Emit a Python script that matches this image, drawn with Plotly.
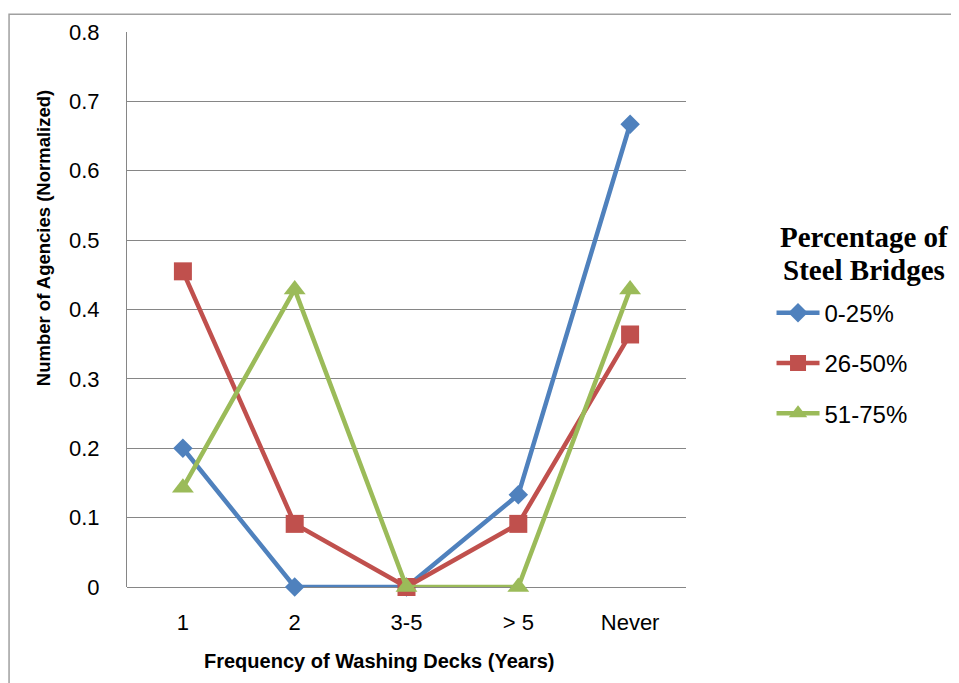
'''
Normalised agency counts by deck washing frequency, per steel bridge share.
'''

import plotly.graph_objects as go


CATEGORIES = ['1', '2', '3-5', '> 5', 'Never']
SERIES_NAMES = ['0-25%', '26-50%', '51-75%']
VALUES_0_25 = [0.200, 0.000, 0.000, 0.133, 0.667]
VALUES_26_50 = [0.455, 0.091, 0.000, 0.091, 0.364]
VALUES_51_75 = [0.143, 0.429, 0.000, 0.000, 0.429]
Y_TICKS = [0, 0.1, 0.2, 0.3, 0.4, 0.5, 0.6, 0.7, 0.8]
LEGEND_TITLE = ['Percentage of', 'Steel Bridges']
X_TITLE = 'Frequency of Washing Decks (Years)'
Y_TITLE = 'Number of Agencies (Normalized)'

STYLE = [
    ('#4F81BD', 'diamond', 15),
    ('#C0504D', 'square', 18),
    ('#9BBB59', 'triangle-up', 19),
]

fig = go.Figure()
for name, values, (colour, symbol, size) in zip(
        SERIES_NAMES, [VALUES_0_25, VALUES_26_50, VALUES_51_75], STYLE):
    fig.add_trace(go.Scatter(
        x = CATEGORIES,
        y = values,
        name = name,
        legendgroup = name,
        mode = 'lines+markers',
        cliponaxis = False,
        line = dict(color=colour, width=4.5),
        marker = dict(symbol=symbol, size=size, color=colour)
    ))

# legend heading, two tight lines like the original
for text, ypos in zip(LEGEND_TITLE, [0.630, 0.572]):
    fig.add_annotation(
        text = f'<b>{text}</b>',
        xref = 'paper', yref = 'paper',
        x = 1.318, y = ypos,
        xanchor = 'center', yanchor = 'middle',
        showarrow = False,
        font = dict(family='Liberation Serif, serif', size=29, color='black')
    )

# axis titles sit off-centre in the original, so place them by hand
fig.add_annotation(
    text = f'<b>{X_TITLE}</b>',
    xref = 'paper', yref = 'paper',
    x = 0.451, y = -0.134,
    xanchor = 'center', yanchor = 'middle',
    showarrow = False,
    font = dict(size=20)
)
fig.add_annotation(
    text = f'<b>{Y_TITLE}</b>',
    xref = 'paper', yref = 'paper',
    x = -0.148, y = 0.629,
    xanchor = 'center', yanchor = 'middle',
    textangle = -90,
    showarrow = False,
    font = dict(size=18.5)
)

# outer chart frame
fig.add_shape(
    type = 'rect', xref = 'paper', yref = 'paper',
    x0 = -0.211, x1 = 1.6, y0 = -0.3, y1 = 1.032,
    line = dict(color='#A0A0A0', width=1.5)
)

fig.update_layout(
    width = 951,
    height = 675,
    margin = dict(l=119, r=273, t=19, b=96),
    paper_bgcolor = 'white',
    plot_bgcolor = 'white',
    font = dict(family='Liberation Sans, Open Sans, sans-serif', color='black', size=22),
    showlegend = True,
    legend = dict(
        x = 1.153, y = 0.534, xanchor = 'left', yanchor = 'top',
        font = dict(size=24),
        tracegroupgap = 16,
        itemwidth = 43
    ),
    xaxis = dict(
        type = 'category',
        range = [-0.5, 4.5],
        showgrid = False,
        showline = False,
        ticks = '',
        ticklabelstandoff = 20,
        tickfont = dict(size=22)
    ),
    yaxis = dict(
        range = [0, 0.8],
        tickvals = Y_TICKS,
        ticktext = [f'{v:g}' for v in Y_TICKS],
        showgrid = True,
        gridcolor = '#868686',
        gridwidth = 1,
        showline = True,
        linecolor = '#868686',
        linewidth = 1,
        zeroline = True,
        zerolinecolor = '#868686',
        zerolinewidth = 1,
        ticks = '',
        ticklabelstandoff = 22,
        tickfont = dict(size=22)
    )
)

fig.write_html('out.html')
